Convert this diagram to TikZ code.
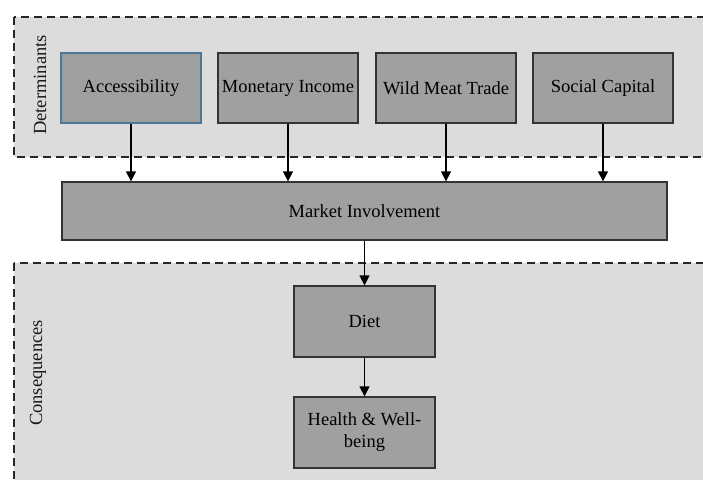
\documentclass[tikz,border=0pt]{standalone}
\usepackage{fontspec}
\setmainfont{Liberation Serif}
\usetikzlibrary{arrows.meta}
\definecolor{zonegray}{HTML}{DCDCDC}
\definecolor{boxgray}{HTML}{A0A0A0}
\definecolor{edgegray}{HTML}{333333}
\definecolor{edgeblue}{HTML}{4A7896}
\begin{document}
\begin{tikzpicture}[x=1pt,y=-1pt,
  zone/.style={fill=zonegray,draw=black!85,line width=2.8pt,dash pattern=on 8pt off 5pt},
  factor/.style={rectangle,draw=edgegray,fill=boxgray,line width=1.3pt,text=black,
    font=\fontsize{18.5}{22}\selectfont,align=center,inner sep=0pt},
  zonelabel/.style={rotate=90,text=black!90,font=\fontsize{18.5}{22}\selectfont},
  flow/.style={line width=1.4pt,-{Triangle[length=10pt,width=10pt]}}]
\useasboundingbox (0,0) rectangle (703,479);
\clip (0,0) rectangle (703,479);
% dashed zones
\draw [zone] (14,17) rectangle (720,157);
\draw [zone] (14,263) rectangle (720,500);
\node [zonelabel] (det) at (40,85) {Determinants};
\node [zonelabel] (cons) at (38,373) {Consequences};
% determinants
\node [factor,minimum width=140pt,minimum height=70pt,draw=edgeblue] (acc) at (131,88) {Accessibility};
\node [factor,minimum width=140pt,minimum height=70pt] (money) at (288,88) {Monetary Income};
\node [factor,minimum width=140pt,minimum height=70pt] (meat) at (446,88) {Wild Meat Trade};
\node [factor,minimum width=140pt,minimum height=70pt] (social) at (603,88) {Social Capital};
\node [factor,minimum width=605pt,minimum height=58pt] (market) at (364.5,211) {Market Involvement};
% consequences
\node [factor,minimum width=141pt,minimum height=71pt] (diet) at (364.5,321.5) {Diet};
\node [factor,minimum width=141pt,minimum height=71pt] (health) at (364.5,432.5) {Health \& Well-\\being};
\foreach \n in {acc,money,meat,social}
  \draw [flow] (\n.south) -- (\n.south |- market.north);
\draw [flow] (market.south) -- (diet.north);
\draw [flow] (diet.south) -- (health.north);
\end{tikzpicture}
\end{document}
